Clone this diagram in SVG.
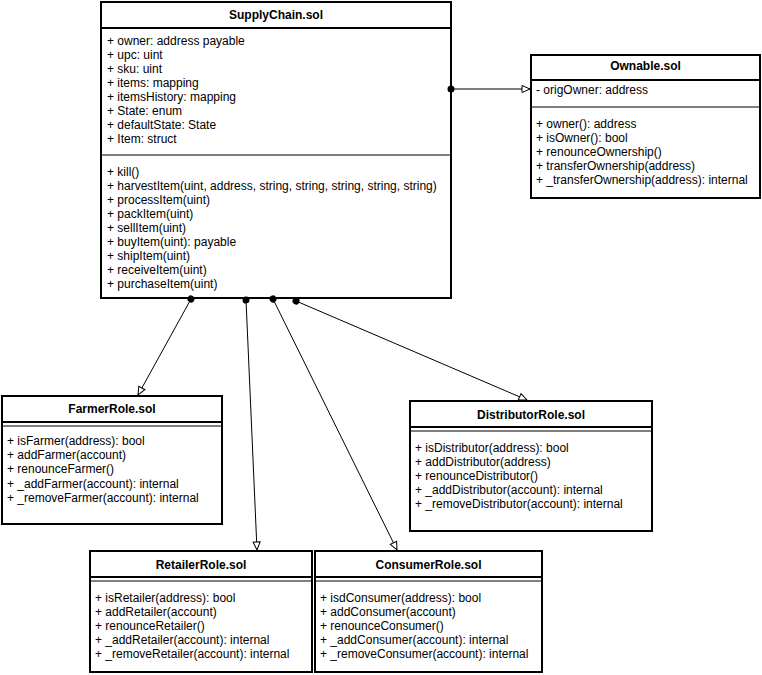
<svg xmlns="http://www.w3.org/2000/svg" width="762" height="675" viewBox="0 0 762 675">
<style>
text{font-family:"Liberation Sans",Arial,sans-serif;font-size:12px;fill:#000}
.t{font-weight:bold;text-anchor:middle}
.box{fill:#fff;stroke:#000;stroke-width:2}
.hl{stroke:#000;stroke-width:2}
.sl{stroke:#000;stroke-width:1}
.c{fill:none;stroke:#000;stroke-width:1}
</style>
<defs>
<marker id="dot" markerWidth="10" markerHeight="10" refX="5" refY="5" markerUnits="userSpaceOnUse" orient="auto">
<circle cx="5" cy="5" r="3.5" fill="#000"/>
</marker>
<marker id="tri" markerWidth="12" markerHeight="12" refX="9" refY="6" markerUnits="userSpaceOnUse" orient="auto">
<path d="M1,2.5 L9,6 L1,9.5 Z" fill="#fff" stroke="#000" stroke-width="1"/>
</marker>
</defs>
<g id="supplychain">
<rect class="box" x="101" y="2" width="350" height="296"/>
<line class="hl" x1="101" y1="28" x2="451" y2="28"/>
<line class="sl" x1="101" y1="155" x2="451" y2="155"/>
<text class="t" x="276" y="19">SupplyChain.sol</text>
<text x="107" y="45">+ owner: address payable</text>
<text x="107" y="59">+ upc: uint</text>
<text x="107" y="73">+ sku: uint</text>
<text x="107" y="87">+ items: mapping</text>
<text x="107" y="101">+ itemsHistory: mapping</text>
<text x="107" y="115">+ State: enum</text>
<text x="107" y="129">+ defaultState: State</text>
<text x="107" y="143">+ Item: struct</text>
<text x="107" y="176">+ kill()</text>
<text x="107" y="190">+ harvestItem(uint, address, string, string, string, string, string)</text>
<text x="107" y="204">+ processItem(uint)</text>
<text x="107" y="218">+ packItem(uint)</text>
<text x="107" y="232">+ sellItem(uint)</text>
<text x="107" y="246">+ buyItem(uint): payable</text>
<text x="107" y="260">+ shipItem(uint)</text>
<text x="107" y="274">+ receiveItem(uint)</text>
<text x="107" y="288">+ purchaseItem(uint)</text>
</g>
<g id="ownable">
<rect class="box" x="531" y="55" width="229" height="143"/>
<line class="hl" x1="531" y1="80" x2="760" y2="80"/>
<line class="sl" x1="531" y1="107" x2="760" y2="107"/>
<text class="t" x="645.5" y="70">Ownable.sol</text>
<text x="536" y="94">- origOwner: address</text>
<text x="536" y="128">+ owner(): address</text>
<text x="536" y="142">+ isOwner(): bool</text>
<text x="536" y="156">+ renounceOwnership()</text>
<text x="536" y="170">+ transferOwnership(address)</text>
<text x="536" y="184">+ _transferOwnership(address): internal</text>
</g>
<g id="farmer">
<rect class="box" x="2" y="396" width="220" height="128"/>
<line class="hl" x1="2" y1="422" x2="222" y2="422"/>
<line class="sl" x1="2" y1="426" x2="222" y2="426"/>
<text class="t" x="112" y="413">FarmerRole.sol</text>
<text x="7" y="445">+ isFarmer(address): bool</text>
<text x="7" y="459">+ addFarmer(account)</text>
<text x="7" y="473">+ renounceFarmer()</text>
<text x="7" y="488">+ _addFarmer(account): internal</text>
<text x="7" y="502">+ _removeFarmer(account): internal</text>
</g>
<g id="distributor">
<rect class="box" x="410" y="401" width="242" height="130"/>
<line class="hl" x1="410" y1="427" x2="652" y2="427"/>
<line class="sl" x1="410" y1="431" x2="652" y2="431"/>
<text class="t" x="531" y="419">DistributorRole.sol</text>
<text x="415" y="452">+ isDistributor(address): bool</text>
<text x="415" y="466">+ addDistributor(address)</text>
<text x="415" y="480">+ renounceDistributor()</text>
<text x="415" y="494">+ _addDistributor(account): internal</text>
<text x="415" y="508">+ _removeDistributor(account): internal</text>
</g>
<g id="retailer">
<rect class="box" x="90" y="551" width="222" height="121"/>
<line class="hl" x1="90" y1="577" x2="312" y2="577"/>
<line class="sl" x1="90" y1="581" x2="312" y2="581"/>
<text class="t" x="201" y="569">RetailerRole.sol</text>
<text x="95" y="602">+ isRetailer(address): bool</text>
<text x="95" y="616">+ addRetailer(account)</text>
<text x="95" y="630">+ renounceRetailer()</text>
<text x="95" y="644">+ _addRetailer(account): internal</text>
<text x="95" y="658">+ _removeRetailer(account): internal</text>
</g>
<g id="consumer">
<rect class="box" x="315" y="551" width="227" height="121"/>
<line class="hl" x1="315" y1="577" x2="542" y2="577"/>
<line class="sl" x1="315" y1="581" x2="542" y2="581"/>
<text class="t" x="428.5" y="569">ConsumerRole.sol</text>
<text x="320" y="602">+ isdConsumer(address): bool</text>
<text x="320" y="616">+ addConsumer(account)</text>
<text x="320" y="630">+ renounceConsumer()</text>
<text x="320" y="644">+ _addConsumer(account): internal</text>
<text x="320" y="658">+ _removeConsumer(account): internal</text>
</g>
<g id="connectors">
<line class="c" x1="451" y1="89" x2="530" y2="89" marker-start="url(#dot)" marker-end="url(#tri)"/>
<line class="c" x1="191" y1="299" x2="138" y2="395" marker-start="url(#dot)" marker-end="url(#tri)"/>
<line class="c" x1="246" y1="300" x2="257" y2="550" marker-start="url(#dot)" marker-end="url(#tri)"/>
<line class="c" x1="273" y1="299" x2="397" y2="550" marker-start="url(#dot)" marker-end="url(#tri)"/>
<line class="c" x1="296" y1="301" x2="527" y2="400" marker-start="url(#dot)" marker-end="url(#tri)"/>
</g>
</svg>
